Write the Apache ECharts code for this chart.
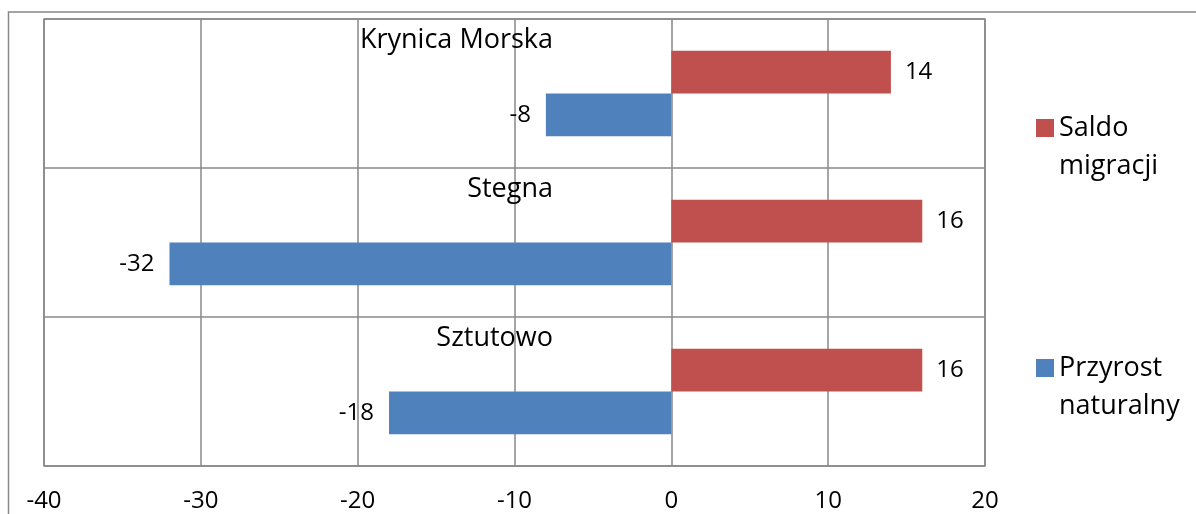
<!DOCTYPE html>
<html>
<head>
<meta charset="utf-8">
<script src="https://cdn.jsdelivr.net/npm/echarts@6/dist/echarts.min.js"></script>
<style>
  html, body { margin: 0; padding: 0; background: #fff; }
  #chart { width: 1196px; height: 514px; }
</style>
</head>
<body>
<div id="chart"></div>
<script>
// categories listed bottom -> top (value axis on y grows upward)
const categories = ['Sztutowo', 'Stegna', 'Krynica Morska']
const saldoMigracji = [16, 16, 14]
const przyrostNaturalny = [-18, -32, -8]
const xTicks = { min: -40, max: 20, interval: 10 }

const FONT = '"Open Sans", "Liberation Sans", sans-serif'
const GRID_COLOR = '#888888'
const RED = '#C0504D'
const BLUE = '#4F81BD'

const chart = echarts.init(document.getElementById('chart'), null, { renderer: 'canvas' })

// icon sits on the first text line: blank line on top keeps it centred there
function legendFor(name, top) {
  return {
    data: [name],
    orient: 'vertical',
    left: 1036, top: top,
    padding: 0,
    icon: 'rect', itemWidth: 18, itemHeight: 18,
    selectedMode: false,
    formatter: n => ' \n' + n.replace(' ', '\n'),
    textStyle: { fontFamily: FONT, fontSize: 27, color: '#000', lineHeight: 38 },
  }
}

chart.setOption({
  animation: false,
  backgroundColor: '#fff',
  textStyle: { fontFamily: FONT },
  grid: {
    left: 44, right: 211, top: 19, bottom: 48,
    containLabel: false, outerBoundsMode: 'none',
    show: true, borderColor: GRID_COLOR, borderWidth: 1.5,
  },
  graphic: [{
    type: 'rect', silent: true, z: -1,
    shape: { x: 8.5, y: 12, width: 1300, height: 600 },
    style: { fill: 'none', stroke: GRID_COLOR, lineWidth: 1.5 },
  }],
  legend: [
    legendFor('Saldo migracji', 71),
    legendFor('Przyrost naturalny', 311),
  ],
  xAxis: {
    type: 'value',
    min: xTicks.min, max: xTicks.max, interval: xTicks.interval,
    axisLine: { show: false },
    axisTick: { show: false },
    axisLabel: { color: '#000', fontSize: 24, margin: 23, fontFamily: FONT },
    splitLine: { lineStyle: { color: GRID_COLOR, width: 1.5 } },
  },
  yAxis: {
    type: 'category',
    data: categories,
    offset: -509,
    axisLine: { show: false },
    axisTick: { show: false },
    axisLabel: {
      interval: 0, hideOverlap: false,
      color: '#000', fontSize: 27, fontFamily: FONT, margin: 0,
      align: 'right', verticalAlign: 'middle', lineHeight: 106,
      // trailing blank line lifts the name to the top of its band
      formatter: v => v + '\n ',
    },
    splitLine: { show: true, interval: 0, lineStyle: { color: GRID_COLOR, width: 1.5 } },
  },
  series: [
    {
      name: 'Saldo migracji', type: 'bar',
      data: saldoMigracji,
      itemStyle: { color: RED },
      barGap: '0%', barCategoryGap: '42.5%',
      label: { show: true, position: 'right', distance: 14, color: '#000', fontSize: 24, fontFamily: FONT },
    },
    {
      name: 'Przyrost naturalny', type: 'bar',
      data: przyrostNaturalny,
      itemStyle: { color: BLUE },
      barGap: '0%', barCategoryGap: '42.5%',
      label: { show: true, position: 'left', distance: 15, color: '#000', fontSize: 24, fontFamily: FONT },
    },
  ],
})
</script>
</body>
</html>
